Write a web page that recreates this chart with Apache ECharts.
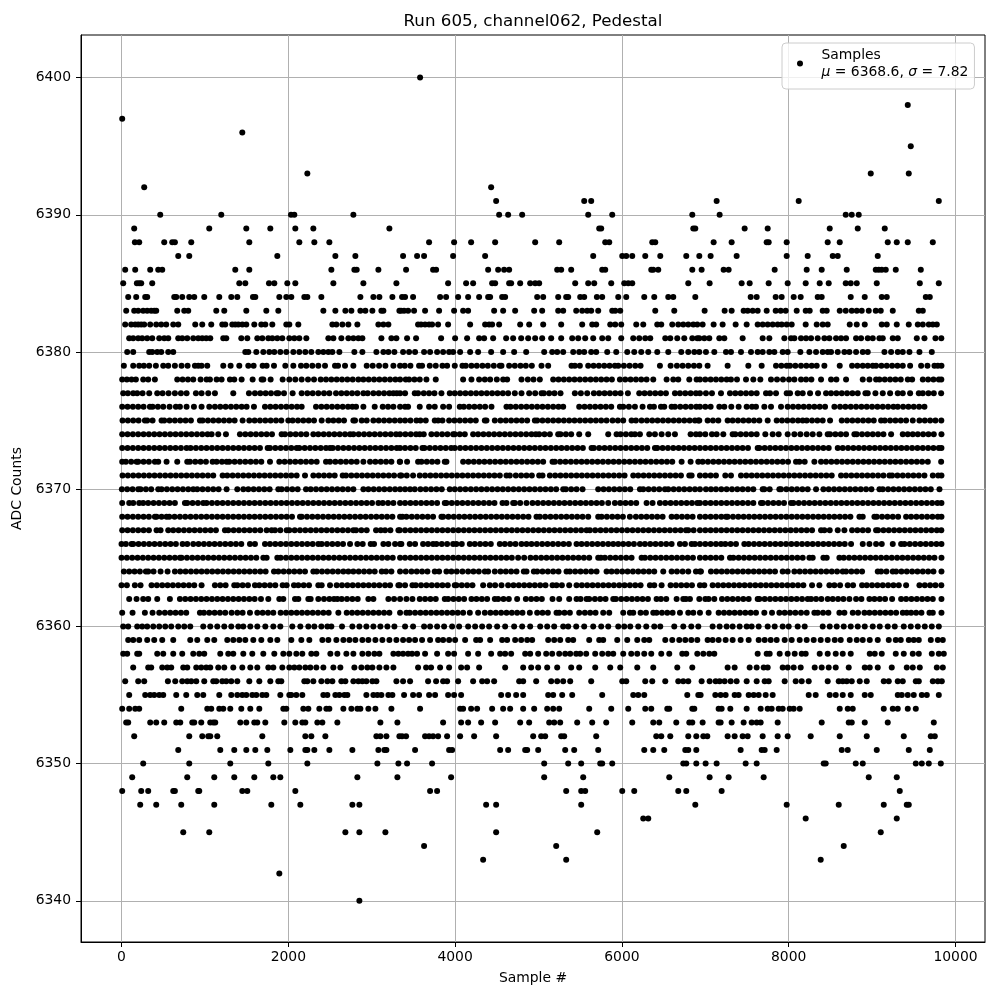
<!DOCTYPE html>
<html><head><meta charset="utf-8">
<style>html,body{margin:0;padding:0;background:#fff}#c{width:1000px;height:1000px}</style>
<script src="https://cdn.jsdelivr.net/npm/echarts@6/dist/echarts.min.js"></script></head>
<body><div id="c"></div>
<script>
const titleText="Run 605, channel062, Pedestal";
const xLabel="Sample #";
const yLabel="ADC Counts";
const seriesName="Samples";
const xTicks=[0,2000,4000,6000,8000,10000];
const yTicks=[6340,6350,6360,6370,6380,6390,6400];
const s6400=[3580];
const s6398=[9428];
const s6397=[8];
const s6396=[1448];
const s6395=[9464];
const s6393=[2228,8984,9440];
const s6392=[272,4432];
const s6391=[4492,5548,5632,7136,8120,9800];
const s6390=[464,1196,2032,2072,2780,4528,4636,4804,5596,5884,6844,7172,8684,8756,8840];
const s6389=[152,1052,1496,1784,2084,2300,3212,5728,5752,6856,6880,7472,7748,8492,8828,9152];
const s6388=[160,212,512,608,640,836,1532,2132,2312,2492,3688,3988,4192,4480,4960,5248,5800,5848,6364,6400,7100,7316,7736,7760,7976,8468,8612,9188,9296,9428,9728];
const s6387=[680,812,1868,2564,2804,3376,3544,3628,3976,4360,5656,6004,6052,6124,6280,6460,6772,6928,7064,7376,7976,8228,8528,8588,9068];
const s6386=[44,164,344,440,488,1364,1532,2516,2792,2820,3080,3412,3736,3772,4396,4516,4588,4648,5224,5272,5392,5764,5800,6352,6376,6436,6844,6956,7220,7280,7832,8216,8396,8696,9044,9080,9116,9164,9284,9584];
const s6385=[20,184,212,236,368,1412,1484,1768,1832,1988,2084,2540,2900,3296,3916,4132,4216,4444,4480,4648,4672,4780,4900,4960,5008,5440,5596,5668,5872,6028,6076,6124,6796,7052,7436,7532,7760,7988,8204,8372,8480,8684,8744,8816,9056,9572,9800];
const s6384=[80,176,284,308,632,656,728,812,872,992,1172,1316,1388,1576,1604,1892,1976,2036,2192,2228,2396,2864,3020,3092,3248,3364,3400,3496,3820,3892,4036,4156,4288,4396,4420,4564,4600,4984,5056,5236,5332,5356,5500,5548,5700,5764,5956,6052,6268,6388,6556,6616,6880,7544,7616,7844,7916,8060,8144,8348,8396,8744,8912,9116,9176,9644,9692];
const s6383=[56,152,200,260,308,356,392,416,668,752,800,1136,1232,1496,1736,1880,2420,2564,2684,2756,2864,2924,3008,3116,3140,3332,3352,3388,3436,3508,3640,3808,3988,4096,4156,4468,4576,4720,4948,5044,5236,5296,5452,5524,5584,5632,5716,5884,5920,5980,6400,6628,6992,7232,7316,7460,7508,7568,7628,7736,7844,7904,7964,8096,8204,8252,8408,8456,8612,8684,8756,8816,8876,8960,9044,9104,9248,9560,9608];
const s6382=[44,116,164,200,236,272,344,416,476,536,620,680,884,968,1076,1208,1244,1328,1364,1400,1448,1496,1592,1676,1724,1808,1976,2012,2120,2528,2576,2648,2720,2828,3080,3140,3200,3556,3592,3640,3688,3724,3796,3916,4180,4360,4408,4444,4528,4780,4888,5056,5272,5524,5644,5692,5860,5920,5992,6172,6256,6424,6472,6604,6676,6736,6796,6856,6904,6968,7100,7208,7364,7496,7628,7688,7748,7808,7868,7916,7976,8036,8204,8336,8408,8468,8732,8816,8912,9116,9176,9296,9440,9548,9608,9680,9728,9776];
const s6381=[92,140,200,248,308,368,452,512,560,680,728,788,860,920,968,1016,1064,1220,1256,1436,1508,1628,1688,1760,1808,1868,1928,2012,2072,2132,2216,2480,2540,2636,2720,2780,2840,2888,3116,3236,3296,3424,3532,3832,4000,4144,4288,4348,4456,4612,4696,4792,4876,4960,5044,5152,5272,5404,5476,5560,5656,5764,5836,5992,6136,6208,6280,6340,6520,6580,6664,6748,6844,6904,6928,6988,7048,7168,7228,7448,7688,7768,7948,8028,8068,8148,8208,8268,8348,8428,8488,8568,8628,8688,8808,8868,8948,9008,9088,9128,9248,9308,9536,9628,9760,9830];
const s6380=[68,140,332,368,428,476,560,620,1484,1520,1616,1700,1772,1832,1904,1976,2060,2132,2204,2276,2360,2420,2480,2528,2612,2792,2888,3056,3140,3200,3272,3376,3448,3520,3628,3700,3784,3856,3928,3976,4060,4180,4276,4432,4576,4708,4852,5068,5164,5224,5296,5416,5488,5548,5632,5692,5824,5932,6064,6148,6232,6316,6424,6556,6712,6796,6868,6928,7008,7108,7248,7308,7428,7548,7628,7688,7768,7828,7928,7988,8140,8248,8328,8408,8468,8508,8588,8668,8728,8808,8888,8948,9148,9228,9308,9368,9448,9568,9716];
const s6379=[28,140,212,268,332,412,500,560,640,720,792,880,920,960,1028,1220,1308,1412,1520,1584,1692,1740,1828,1964,2060,2152,2216,2288,2360,2440,2560,2596,2680,2780,2940,3012,3088,3164,3260,3340,3396,3464,3568,3604,3696,3768,3848,3904,3996,4088,4128,4196,4260,4328,4392,4464,4536,4556,4648,4716,4784,4848,4920,5036,5116,5396,5436,5496,5596,5660,5724,5788,5852,5916,5956,6024,6092,6160,6224,6456,6584,6660,6728,6796,6864,6928,7028,7268,7516,7676,7848,7912,7976,8016,8080,8148,8212,8276,8336,8428,8612,8760,8824,8888,8948,9008,9048,9112,9176,9240,9304,9368,9456,9588,9664,9748,9788,9832];
const s6378=[8,64,120,172,260,320,400,668,732,796,860,948,1020,1060,1140,1200,1300,1352,1440,1572,1680,1700,1788,1932,2012,2084,2160,2236,2308,2388,2452,2516,2580,2644,2708,2772,2840,2900,2964,3028,3092,3156,3220,3284,3340,3408,3448,3512,3576,3656,3768,4096,4196,4288,4356,4420,4500,4576,4624,4796,4872,4940,5016,5176,5240,5304,5368,5432,5496,5560,5624,5688,5752,5816,5880,5976,6040,6104,6168,6232,6296,6376,6536,6616,6676,6808,6896,6936,7000,7064,7128,7192,7256,7308,7380,7488,7576,7660,7788,7860,7932,8004,8068,8148,8208,8272,8388,8508,8572,8688,8888,8968,9048,9088,9152,9216,9280,9344,9428,9480,9608,9672,9736,9800,9830];
const s6377=[20,76,140,188,252,332,428,492,564,640,712,780,892,960,1040,1120,1340,1528,1600,1664,1728,1792,1860,1880,1948,2052,2160,2228,2292,2360,2428,2492,2572,2636,2700,2764,2828,2900,2952,3020,3084,3148,3212,3260,3300,3340,3400,3516,3556,3624,3688,3752,3836,3936,3996,4060,4124,4188,4252,4316,4380,4444,4508,4572,4636,4716,4796,4888,4960,5036,5064,5128,5192,5264,5436,5508,5584,5664,5728,5792,5856,5920,5984,6072,6208,6272,6336,6400,6464,6528,6636,6696,6760,6824,6888,6936,7008,7080,7188,7296,7360,7424,7488,7552,7616,7728,7776,7848,7976,8016,8108,8168,8256,8352,8448,8508,8572,8636,8700,8764,8828,8920,8948,9040,9128,9216,9308,9368,9456,9560,9608,9676,9740,9828];
const s6376=[8,72,136,200,264,340,372,436,500,576,652,700,780,868,960,1052,1120,1184,1248,1312,1376,1440,1500,1588,1720,1784,1848,1912,1976,2040,2104,2160,2332,2396,2460,2524,2588,2652,2716,2768,2812,2900,3036,3132,3196,3260,3340,3400,3436,3576,3688,3756,3856,3928,4056,4104,4168,4232,4296,4360,4436,4616,4664,4728,4792,4856,4920,4984,5048,5112,5176,5240,5296,5488,5552,5616,5680,5744,5808,5872,5976,6016,6084,6156,6248,6336,6384,6468,6508,6596,6636,6700,6764,6828,6892,6936,7000,7064,7168,7228,7312,7400,7496,7560,7608,7708,7788,7908,7988,8052,8116,8180,8244,8308,8372,8436,8548,8616,8680,8744,8808,8872,8936,9000,9064,9128,9192,9256,9308,9372,9436,9500,9564,9628];
const s6375=[12,76,140,204,280,308,372,480,512,576,640,704,768,832,940,972,1036,1100,1164,1228,1292,1356,1452,1532,1596,1660,1724,1788,1852,1916,2000,2052,2116,2180,2244,2308,2400,2480,2540,2604,2668,2780,2800,2880,2940,3020,3084,3148,3212,3276,3340,3400,3464,3536,3584,3648,3756,3796,3848,3928,3992,4056,4120,4184,4248,4356,4376,4476,4544,4608,4672,4736,4800,4864,4956,4984,5048,5112,5176,5240,5304,5368,5432,5496,5560,5624,5688,5752,5816,5888,5952,6016,6116,6168,6236,6300,6364,6428,6492,6556,6620,6684,6748,6812,6876,6916,6928,7028,7092,7156,7268,7328,7392,7456,7520,7584,7648,7748,7856,7920,7984,8048,8112,8168,8216,8280,8344,8408,8496,8636,8700,8764,8828,8892,8956,9020,9108,9152,9216,9280,9344,9408,9488,9568,9632,9696,9760,9830];
const s6374=[8,72,136,200,264,328,392,456,520,584,648,712,776,840,904,968,1032,1080,1160,1252,1420,1484,1548,1612,1676,1740,1804,1920,1960,2024,2088,2152,2216,2300,2360,2424,2488,2552,2616,2680,2740,2780,2844,2908,2972,3036,3100,3164,3228,3292,3340,3404,3468,3532,3576,3624,3716,3780,3844,3908,3976,3996,4056,4116,4216,4276,4340,4404,4468,4532,4596,4660,4724,4788,4852,4916,4968,5008,5072,5136,5236,5264,5328,5392,5488,5596,5836,5936,5984,6048,6112,6156,6216,6328,6396,6476,6556,6636,6824,6888,6936,7000,7080,7136,7216,7328,7360,7424,7488,7552,7616,7720,7808,7880,7988,8068,8140,8216,8288,8368,8468,8496,8560,8624,8688,8788,8816,8880,8944,9008,9072,9136,9228,9368,9428,9488,9548,9612,9676,9740,9832];
const s6373=[8,72,136,200,264,328,392,456,520,584,648,712,780,828,892,956,1020,1084,1148,1212,1276,1340,1404,1468,1532,1596,1660,1752,1780,1844,1908,1972,2036,2100,2132,2196,2260,2324,2388,2452,2500,2532,2596,2660,2724,2788,2852,2916,2980,3044,3108,3172,3236,3300,3340,3400,3464,3528,3608,3632,3696,3760,3824,3888,3952,3996,4060,4124,4188,4252,4316,4380,4444,4508,4572,4636,4700,4764,4828,4892,4956,5020,5084,5148,5212,5276,5340,5404,5468,5532,5636,5664,5728,5792,5856,5920,5984,6048,6112,6176,6240,6304,6396,6424,6488,6552,6616,6680,6744,6808,6872,6936,7000,7064,7128,7192,7256,7320,7384,7448,7512,7628,7648,7712,7776,7840,7904,7968,8032,8096,8160,8224,8288,8352,8416,8480,8588,8648,8712,8776,8840,8904,8968,9032,9096,9160,9224,9288,9352,9416,9480,9544,9608,9672,9736,9800,9832];
const s6372=[8,52,116,180,200,264,328,400,440,540,668,788,820,884,948,1012,1092,1140,1204,1260,1292,1356,1420,1484,1548,1612,1676,1780,1892,1956,2020,2084,2148,2212,2276,2340,2452,2500,2564,2628,2692,2756,2820,2900,2980,3044,3108,3172,3236,3340,3336,3424,3556,3596,3660,3724,3788,3876,3896,4096,4160,4224,4288,4352,4416,4480,4544,4608,4672,4736,4800,4864,4928,4992,5056,5168,5196,5260,5324,5388,5452,5516,5580,5644,5708,5772,5836,5900,5964,6028,6092,6156,6220,6284,6348,6412,6476,6540,6604,6716,6824,6916,6968,7032,7096,7160,7224,7288,7352,7416,7480,7544,7608,7672,7736,7800,7864,7928,7992,8088,8128,8192,8308,8388,8448,8512,8576,8640,8704,8768,8832,8896,8960,9024,9088,9152,9216,9280,9344,9408,9472,9536,9600,9668,9828];
const s6371=[12,76,140,204,268,332,396,460,524,588,652,716,780,844,908,972,1036,1100,1212,1268,1332,1396,1460,1524,1588,1652,1716,1780,1844,1908,1972,2036,2100,2200,2300,2364,2428,2492,2556,2652,2692,2756,2820,2884,2948,3012,3076,3140,3204,3268,3340,3356,3420,3496,3576,3640,3704,3768,3832,3896,3960,4024,4088,4152,4216,4280,4344,4408,4472,4536,4616,4656,4728,4792,4856,4920,5008,5048,5136,5200,5264,5328,5392,5456,5520,5584,5648,5712,5776,5840,5904,5968,6032,6136,6196,6260,6324,6388,6452,6516,6580,6644,6708,6808,6836,6936,7000,7064,7128,7240,7308,7428,7492,7556,7620,7684,7748,7812,7876,7940,8004,8068,8132,8196,8260,8324,8388,8452,8516,8628,8688,8752,8816,8880,8944,9008,9072,9136,9208,9240,9304,9368,9432,9496,9560,9628,9728,9792,9832];
const s6370=[4,68,132,200,228,292,356,440,480,544,608,672,736,800,860,908,972,1036,1100,1164,1260,1388,1460,1520,1584,1648,1712,1776,1880,1920,1984,2048,2112,2212,2268,2332,2396,2460,2524,2588,2652,2716,2780,2900,2960,3024,3088,3152,3216,3280,3340,3400,3460,3516,3584,3648,3712,3776,3840,3936,3996,4060,4124,4188,4252,4316,4380,4444,4508,4572,4636,4700,4764,4828,4892,4956,5020,5084,5148,5212,5296,5328,5392,5456,5528,5716,5780,5844,5908,5972,6036,6100,6216,6256,6320,6384,6448,6516,6556,6620,6684,6748,6812,6876,6936,7008,7068,7128,7192,7256,7320,7384,7448,7512,7576,7688,7708,7772,7888,7908,7972,8036,8100,8164,8228,8328,8416,8480,8544,8608,8672,8736,8800,8864,8928,8992,9088,9128,9192,9256,9320,9384,9448,9512,9576,9640,9704,9808];
const s6369=[8,92,140,212,260,320,384,448,512,576,640,760,788,852,916,980,1020,1084,1148,1212,1276,1340,1404,1468,1532,1596,1660,1724,1788,1852,1916,1980,2044,2108,2172,2236,2300,2364,2428,2492,2556,2620,2684,2748,2812,2876,2940,3004,3080,3132,3196,3260,3340,3400,3464,3528,3592,3656,3720,3784,3876,3896,3960,4024,4088,4152,4216,4280,4344,4408,4472,4568,4616,4696,4716,4780,4856,4928,4992,5056,5120,5184,5248,5312,5376,5440,5504,5568,5632,5696,5760,5836,5916,5980,6044,6108,6172,6296,6368,6456,6520,6584,6648,6712,6776,6840,6904,6936,7000,7064,7128,7192,7256,7320,7384,7448,7512,7576,7668,7688,7752,7816,7880,7944,8028,8056,8120,8184,8248,8312,8376,8440,8504,8568,8632,8696,8760,8824,8888,8952,9016,9080,9144,9208,9272,9336,9400,9464,9528,9592,9656,9720,9784,9832];
const s6368=[8,72,136,200,264,328,400,420,480,540,572,636,700,764,828,892,956,1020,1084,1148,1212,1276,1340,1404,1468,1532,1596,1660,1724,1788,1852,1916,1980,2044,2140,2160,2224,2288,2352,2416,2480,2544,2608,2672,2736,2800,2864,2928,2992,3056,3120,3184,3248,3340,3368,3416,3480,3544,3608,3672,3736,3836,3856,3920,3984,4048,4112,4176,4240,4304,4368,4432,4496,4560,4624,4688,4752,4816,4880,4976,5016,5080,5144,5208,5272,5336,5400,5464,5528,5596,5716,5756,5820,5884,5948,6012,6096,6168,6232,6296,6360,6424,6488,6596,6656,6720,6784,6848,6936,7000,7064,7128,7192,7248,7268,7332,7396,7460,7524,7588,7652,7716,7780,7844,7908,7972,8036,8100,8164,8228,8292,8356,8420,8484,8548,8612,8676,8740,8848,8888,9028,9056,9120,9184,9248,9312,9408,9468,9532,9596,9660,9724,9788,9832];
const s6367=[8,72,136,200,264,328,420,468,560,620,684,748,812,876,940,1004,1068,1132,1240,1280,1344,1408,1472,1536,1600,1664,1740,1800,1840,1904,1980,2012,2076,2140,2204,2268,2332,2396,2460,2524,2588,2652,2716,2780,2812,2876,2940,3052,3108,3160,3224,3320,3336,3400,3464,3528,3592,3656,3720,3784,3848,3912,3976,4040,4104,4168,4232,4296,4360,4424,4488,4552,4616,4680,4744,4808,4872,4936,5000,5064,5128,5192,5256,5320,5384,5448,5512,5576,5616,5680,5744,5808,5872,5936,6000,6064,6128,6192,6256,6320,6384,6448,6512,6576,6640,6704,6768,6796,6860,6936,7000,7064,7128,7192,7256,7320,7384,7448,7512,7576,7640,7704,7768,7832,7896,7960,8024,8088,8152,8216,8280,8388,8428,8492,8588,8668,8760,8824,8888,8952,9048,9072,9136,9200,9264,9328,9392,9456,9520,9584,9648,9712,9776,9830];
const s6366=[0,52,120,140,204,268,332,396,460,524,588,652,732,788,860,924,988,1052,1116,1180,1244,1308,1372,1436,1540,1600,1720,1780,1844,1908,1972,2036,2100,2164,2228,2292,2360,2400,2464,2528,2592,2656,2740,2828,2892,2988,3028,3140,3200,3280,3340,3356,3456,3520,3616,3676,3736,3776,3840,3904,3976,4016,4080,4176,4236,4300,4364,4428,4536,4596,4660,4724,4796,4856,4916,4980,5044,5108,5172,5236,5300,5364,5456,5516,5580,5644,5708,5772,5836,5896,5956,6016,6080,6144,6216,6276,6340,6404,6468,6532,6596,6696,6756,6836,6876,6936,7000,7064,7128,7188,7240,7304,7368,7468,7520,7584,7648,7712,7776,7840,7904,7968,8032,8096,8160,8224,8288,8352,8416,8480,8544,8608,8672,8748,8888,8968,9048,9116,9248,9348,9388,9452,9516,9580,9644,9708,9772,9832];
const s6365=[0,64,128,192,256,320,384,448,512,576,640,700,720,784,848,912,976,1040,1104,1168,1232,1296,1360,1424,1488,1552,1616,1700,1740,1868,1908,1972,2036,2100,2164,2228,2292,2356,2420,2484,2548,2612,2676,2740,2804,2868,2932,2996,3060,3124,3188,3252,3340,3400,3464,3528,3592,3656,3720,3784,3848,3912,3976,4040,4104,4168,4232,4296,4360,4424,4488,4552,4616,4680,4756,4828,4904,4968,5032,5096,5160,5224,5288,5352,5416,5480,5544,5608,5716,5748,5796,5860,5924,5988,6052,6116,6236,6276,6340,6404,6468,6532,6596,6660,6724,6788,6852,6936,7000,7064,7128,7192,7296,7336,7400,7464,7528,7592,7656,7720,7784,7848,7912,7976,8040,8104,8168,8248,8288,8416,8456,8608,8660,8724,8788,8852,8916,8980,9044,9108,9172,9236,9300,9364,9428,9492,9556,9620,9684,9748,9832];
const s6364=[28,92,156,220,292,320,384,468,552,640,704,768,832,896,960,1024,1088,1152,1216,1280,1344,1408,1472,1536,1600,1664,1728,1828,1880,1944,2008,2072,2136,2200,2300,2340,2404,2468,2532,2596,2660,2720,2780,2844,2908,2972,3036,3120,3172,3236,3340,3408,3476,3540,3604,3668,3756,3808,3896,3956,4020,4088,4156,4220,4284,4356,4396,4476,4544,4608,4672,4736,4824,4856,4944,4984,5048,5112,5176,5240,5336,5376,5440,5504,5568,5632,5696,5816,5876,5940,6004,6068,6132,6196,6260,6324,6388,6496,6596,6660,6728,6796,6888,6936,6948,7068,7132,7196,7260,7324,7388,7452,7516,7580,7644,7708,7772,7836,7928,7988,8068,8132,8196,8260,8324,8388,8452,8516,8580,8648,8688,8752,8816,8880,9068,9108,9172,9248,9288,9352,9416,9480,9544,9608,9672,9736,9832];
const s6363=[0,64,160,228,360,424,488,552,616,680,744,808,872,960,1120,1184,1248,1352,1388,1452,1516,1600,1652,1716,1780,1844,1932,1980,2068,2120,2184,2248,2360,2400,2500,2580,2644,2708,2772,2836,2900,2964,3028,3092,3160,3220,3320,3336,3400,3488,3528,3592,3656,3720,3784,3848,3912,3996,4016,4080,4144,4208,4336,4416,4480,4556,4636,4700,4764,4828,4892,4956,5020,5084,5168,5216,5280,5368,5456,5520,5584,5648,5712,5776,5840,5904,5968,6032,6096,6160,6224,6336,6388,6476,6584,6648,6712,6776,6840,6936,6988,7088,7152,7216,7280,7344,7408,7472,7536,7600,7664,7728,7792,7856,7920,7984,8048,8112,8176,8280,8368,8488,8548,8616,8708,8772,8880,8936,9000,9064,9128,9192,9256,9320,9408,9568,9632,9696,9760,9830];
const s6362=[92,180,260,320,428,580,700,764,828,892,956,1020,1084,1148,1212,1276,1340,1404,1468,1532,1596,1672,1760,1892,1940,2080,2120,2240,2268,2360,2428,2492,2548,2588,2640,2704,2768,2832,2960,3020,3200,3268,3340,3416,3488,3576,3640,3704,3768,3876,3916,3980,4044,4108,4196,4256,4320,4384,4476,4516,4580,4644,4744,4848,4912,4976,5040,5168,5248,5368,5456,5504,5576,5608,5676,5740,5804,5896,5928,5992,6056,6120,6184,6248,6312,6416,6468,6532,6656,6736,6768,6816,6928,7000,7040,7108,7200,7264,7328,7392,7456,7520,7628,7648,7712,7776,7840,7904,7968,8032,8096,8160,8228,8268,8328,8392,8468,8528,8592,8656,8728,8808,8872,8968,9028,9092,9156,9240,9348,9408,9472,9536,9600,9664,9728,9832];
const s6361=[8,132,280,372,452,520,584,648,712,776,940,988,1052,1116,1180,1244,1320,1388,1452,1540,1628,1692,1756,1820,1908,1972,2036,2100,2164,2228,2292,2356,2420,2484,2600,2700,2764,2828,2892,2956,3020,3084,3148,3212,3340,3416,3456,3520,3584,3648,3712,3776,3840,3904,3968,4032,4096,4176,4276,4356,4424,4488,4552,4616,4680,4744,4808,4896,4984,5048,5112,5216,5248,5312,5376,5488,5556,5620,5684,5776,5848,6016,6096,6136,6224,6288,6376,6416,6480,6544,6608,6696,6796,6856,6936,7040,7160,7224,7288,7352,7416,7480,7544,7608,7708,7800,7888,7952,8016,8080,8148,8216,8308,8348,8412,8476,8608,8668,8768,8832,8908,8968,9032,9096,9160,9224,9288,9368,9416,9468,9528,9592,9688,9728,9832];
const s6360=[20,80,188,248,308,380,452,524,596,680,752,824,980,1064,1148,1232,1316,1400,1460,1544,1628,1724,1820,1904,2048,2144,2240,2312,2396,2468,2516,2644,2768,2852,2936,3020,3104,3188,3272,3400,3496,3628,3700,3784,3868,3964,4048,4156,4240,4324,4408,4504,4600,4708,4804,4900,5020,5104,5188,5296,5356,5452,5548,5656,5752,5836,5956,6028,6100,6196,6292,6388,6460,6628,6736,6832,6916,7088,7172,7256,7328,7412,7496,7556,7640,7748,7832,7928,8000,8108,8192,8408,8492,8576,8660,8744,8828,8912,9008,9092,9188,9272,9380,9464,9548,9632,9716,9800];
const s6359=[80,140,212,308,392,488,620,824,908,1028,1112,1268,1340,1412,1484,1580,1676,1784,1868,2036,2156,2252,2408,2480,2576,2660,2732,2804,2888,2960,3044,3128,3212,3296,3376,3448,3520,3604,3700,3796,3856,3928,4000,4120,4252,4300,4420,4564,4624,4720,4792,4864,4924,5116,5188,5260,5356,5416,5608,5728,5776,5944,6064,6184,6268,6328,6520,6604,6688,6760,6832,6904,7028,7088,7160,7244,7328,7424,7520,7640,7712,7784,7856,7952,8036,8132,8216,8300,8384,8468,8552,8624,8732,8816,8888,8972,9068,9200,9284,9344,9440,9500,9560,9704,9788,9848];
const s6358=[20,68,188,212,428,500,620,728,860,932,992,1184,1280,1340,1460,1568,1700,1832,1940,2012,2096,2168,2276,2336,2504,2588,2696,2780,2888,2960,3032,3092,3260,3320,3376,3436,3484,3544,3640,3784,3916,3988,4156,4276,4432,4540,4600,4672,4840,4900,4996,5092,5164,5248,5320,5380,5452,5500,5572,5680,5764,5836,5896,6016,6112,6184,6268,6352,6472,6568,6724,6772,6904,6976,7048,7108,7628,7736,7772,7892,7988,8072,8156,8204,8372,8468,8564,8648,8744,8972,9032,9116,9284,9380,9488,9560,9716,9800,9860];
const s6357=[140,320,356,488,548,596,740,788,896,956,1016,1064,1160,1232,1340,1448,1544,1628,1760,1820,1928,2012,2072,2132,2204,2264,2336,2420,2540,2624,2792,2876,2948,3008,3092,3176,3260,3556,3652,3712,3820,3928,4072,4144,4288,4600,4816,4912,4996,5104,5224,5392,5488,5680,5860,5980,6184,6376,6664,6844,7268,7352,7532,7616,7700,7748,7928,7988,8060,8144,8312,8396,8480,8564,8720,8912,8972,9068,9236,9416,9488,9572,9776,9848];
const s6356=[44,200,272,556,644,728,788,836,896,992,1100,1136,1208,1256,1316,1388,1532,1652,1784,1880,1916,2192,2228,2300,2396,2468,2528,2636,2684,2780,2840,2888,2936,3008,3056,3296,3376,3460,3676,3772,3856,3904,4036,4216,4324,4384,4468,4768,4816,4972,5152,5224,5296,5380,5632,6004,6052,6280,6364,6520,6676,6736,6796,6956,7052,7124,7172,7232,7304,7376,7496,7616,7712,7760,7952,8084,8156,8240,8468,8600,8648,8696,8756,8852,8936,9140,9200,9308,9368,9524,9560,9728,9788,9836];
const s6355=[92,284,344,392,452,500,656,776,908,980,1172,1316,1388,1448,1496,1568,1616,1688,1736,1904,2012,2036,2096,2168,2420,2468,2564,2612,2672,2708,2936,3020,3068,3116,3200,3248,3388,3496,3568,3688,3760,3916,3988,4072,4552,4636,4732,4816,5116,5176,5284,5404,5764,6136,6196,6268,6784,6916,6944,7120,7184,7244,7352,7400,7520,7580,7640,7724,7808,8240,8324,8492,8564,8648,8744,8912,8984,9308,9356,9428,9500,9596,9656,9800];
const s6354=[8,92,164,212,716,1028,1076,1172,1220,1304,1436,1544,1652,1940,1976,2180,2240,2372,2456,2492,2660,2756,2828,2864,2960,3044,3236,3580,4060,4096,4192,4264,4444,4576,4660,4816,4948,5104,5176,5248,5608,5872,6076,6280,6352,6544,6568,6844,6868,7160,7196,7300,7496,7664,7748,7796,7880,7928,8012,8060,8132,8612,8708,8768,9140,9248,9308,9428,9524];
const s6353=[56,80,344,416,512,656,704,848,872,956,1064,1100,1124,1424,1496,1592,1628,1724,1952,2084,2168,2204,2348,2408,2588,3104,3308,3856,4072,4156,4312,4480,4780,4888,5128,5188,5260,5464,5644,5812,6124,6376,6448,6652,6808,6844,6968,7160,7184,7316,7460,7556,7616,7664,7868,8396,8720,8756,8912,9188,9740];
const s6352=[152,812,968,1040,1064,1148,1688,2204,2276,2444,3056,3104,3176,3332,3364,3412,3640,3688,3736,3796,3904,4060,4228,4492,4936,5032,5080,5272,5308,5692,6412,6472,6580,6796,6892,6976,7024,7268,7352,7448,7508,7688,7868,7988,8264,8612,8936,9380,9704,9752];
const s6351=[680,1184,1352,1496,1604,1748,2024,2204,2228,2312,2492,2768,3080,3152,3176,3520,3928,3964,4540,4636,4840,4864,4996,5320,5428,5716,6268,6376,6508,6760,6796,6892,7424,7676,7712,7856,8636,8708,9056,9440,9692];
const s6350=[260,812,1304,1760,2228,3068,3320,3424,3724,5068,5356,5512,5740,5764,5884,6736,6772,6892,7004,7136,7484,7616,8420,8444,8804,8888,9524,9596,9680,9824];
const s6349=[128,788,1112,1352,1592,1820,1904,2828,3308,3952,5068,5536,6568,7052,7280,7700,8960,9296];
const s6348=[8,236,320,620,640,920,932,1448,1508,2084,3700,3784,5332,5512,5560,6004,6148,6676,6772,7196,9332];
const s6347=[224,416,716,1112,1796,2144,2768,2852,4372,4492,5512,6880,7976,8600,9140,9416,9440];
const s6346=[6256,6316,8204,9296];
const s6345=[740,1052,2684,2852,3164,4492,5704,9104];
const s6344=[3628,5212,8660];
const s6343=[4336,5332,8384];
const s6342=[1892];
const s6340=[2852];

const rows=[[6400,s6400],[6398,s6398],[6397,s6397],[6396,s6396],[6395,s6395],[6393,s6393],[6392,s6392],[6391,s6391],[6390,s6390],[6389,s6389],[6388,s6388],[6387,s6387],[6386,s6386],[6385,s6385],[6384,s6384],[6383,s6383],[6382,s6382],[6381,s6381],[6380,s6380],[6379,s6379],[6378,s6378],[6377,s6377],[6376,s6376],[6375,s6375],[6374,s6374],[6373,s6373],[6372,s6372],[6371,s6371],[6370,s6370],[6369,s6369],[6368,s6368],[6367,s6367],[6366,s6366],[6365,s6365],[6364,s6364],[6363,s6363],[6362,s6362],[6361,s6361],[6360,s6360],[6359,s6359],[6358,s6358],[6357,s6357],[6356,s6356],[6355,s6355],[6354,s6354],[6353,s6353],[6352,s6352],[6351,s6351],[6350,s6350],[6349,s6349],[6348,s6348],[6347,s6347],[6346,s6346],[6345,s6345],[6344,s6344],[6343,s6343],[6342,s6342],[6340,s6340]];
const points=[];
rows.forEach(([y,xs])=>xs.forEach(x=>points.push([x,y])));

const font='"DejaVu Sans"';
const chart=echarts.init(document.getElementById('c'),null,{renderer:'canvas'});
const axisCommon={
  axisLine:{show:true,onZero:false,lineStyle:{color:'#000',width:1}},
  axisTick:{show:true,length:5,lineStyle:{color:'#000',width:1}},
  splitLine:{show:true,lineStyle:{color:'#b0b0b0',width:1}},
  nameTextStyle:{fontFamily:font,fontSize:13.9,color:'#000'}
};
chart.setOption({
  animation:false,
  backgroundColor:'#fff',
  title:{text:titleText,left:528,top:8,textAlign:'center',textStyle:{fontFamily:font,fontSize:16.7,fontWeight:'normal',color:'#000'}},
  grid:{left:81,right:15,top:35,bottom:58,show:true,borderColor:'#000',borderWidth:1,backgroundColor:'transparent'},
  legend:{show:true,left:782,top:43,selectedMode:false,orient:'vertical',
    backgroundColor:'rgba(255,255,255,0.8)',borderColor:'#ccc',borderWidth:1,borderRadius:4,
    padding:[5,6,10,15],itemWidth:33,itemHeight:6,
    data:[{name:seriesName,icon:'circle'}],
    formatter:()=>'{t|Samples}\n{i|μ}{t| = 6368.6, }{i|σ}{t| = 7.82}',
    textStyle:{rich:{
      t:{fontFamily:font,fontSize:13.9,color:'#000',lineHeight:17},
      i:{fontFamily:font,fontSize:13.9,fontStyle:'italic',color:'#000',lineHeight:17}
    }}
  },
  xAxis:Object.assign({},axisCommon,{type:'value',min:-486,max:10354,
    name:xLabel,nameLocation:'middle',nameGap:29,
    axisLabel:{customValues:xTicks,formatter:v=>String(v),fontFamily:font,fontSize:13.9,color:'#000',margin:8},
    axisTick:Object.assign({},axisCommon.axisTick,{customValues:xTicks})}),
  yAxis:Object.assign({},axisCommon,{type:'value',min:6337,max:6403.1,
    name:yLabel,nameLocation:'middle',nameGap:51,
    axisLabel:{customValues:yTicks,formatter:v=>String(v),fontFamily:font,fontSize:13.9,color:'#000',margin:10},
    axisTick:Object.assign({},axisCommon.axisTick,{customValues:yTicks})}),
  series:[{name:seriesName,type:'scatter',data:points,symbol:'circle',symbolSize:6,silent:true,
    itemStyle:{color:'#000',opacity:1},large:false,progressive:0,clip:true}]
});
</script></body></html>
